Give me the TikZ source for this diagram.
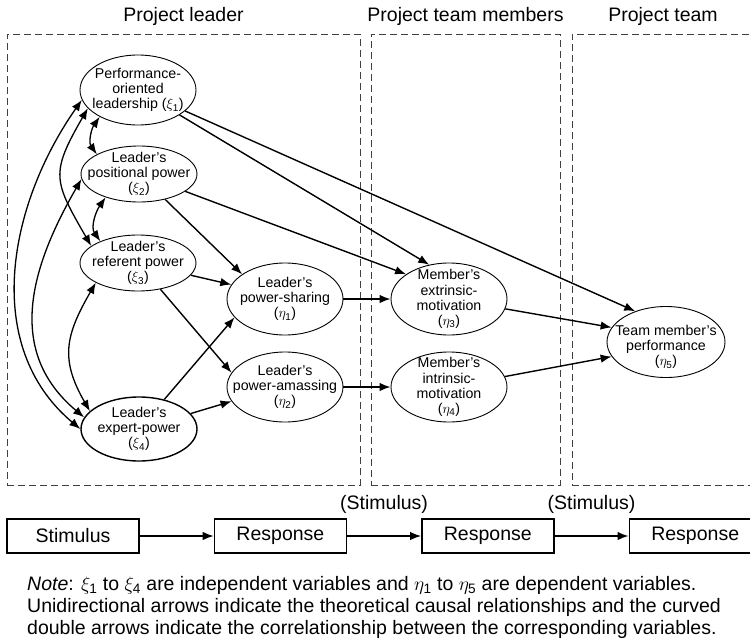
\documentclass[tikz,border=0pt]{standalone}
\usepackage{fix-cm}
\usepackage{amsmath}
\usepackage{fontspec}
\setmainfont{Liberation Sans}
\usetikzlibrary{positioning,shapes.geometric,arrows.meta}
\newcommand{\xiv}[1]{$\xi_{\text{#1}}$}
\newcommand{\etav}[1]{$\eta_{\text{#1}}$}

\begin{document}
\begin{tikzpicture}[x=1pt,y=1pt,
	font=\fontsize{19.5}{22}\selectfont,
	>={Latex[length=11pt,width=8.5pt]},
	zone/.style={draw=black!75,dash pattern=on 7pt off 4pt,line width=0.9pt,inner sep=0pt},
	var/.style={ellipse,draw,line width=0.9pt,minimum width=116pt,minimum height=#1,inner sep=0pt},
	var/.default=56pt,
	vtxt/.style={align=center,inner sep=0pt,font=\fontsize{14.2}{15.3}\selectfont},
	box/.style={draw,line width=1.4pt,minimum width=132pt,minimum height=34pt,inner sep=0pt},
	flow/.style={->,line width=1.4pt},
	corr/.style={<->,line width=1.3pt}]
	\useasboundingbox (0,0) rectangle (750,-643);
	% groups
	\node[zone,minimum width=353pt,minimum height=451pt] (lead) at (183.5,-259.5) {};
	\node[zone,minimum width=189pt,minimum height=451pt] (memb) at (465.5,-259.5) {};
	\node[zone,minimum width=182pt,minimum height=451pt] (team) at (663,-259.5) {};
	\node[above=4pt of lead.north] (tlead) {Project leader};
	\node[above=4pt of memb.north] (tmemb) {Project team members};
	\node[above=4pt of team.north] (tteam) {Project team};
	% variables
	\node[var=70pt,label={[vtxt]center:{Performance-\\oriented\\leadership (\xiv{1})}}] (x1) at (138,-90) {};
	\node[var,label={[vtxt]center:{Leader’s\\positional power\\(\xiv{2})}}] (x2) at (139,-174) {};
	\node[var,label={[vtxt]center:{Leader’s\\referent power\\(\xiv{3})}}] (x3) at (138,-263) {};
	\node[var=64pt,line width=1.4pt,label={[vtxt]center:{Leader’s\\expert-power\\(\xiv{4})}}] (x4) at (139,-429) {};
	\node[var=72pt,label={[vtxt]center:{Leader’s\\power-sharing\\(\etav{1})}}] (e1) at (285,-299) {};
	\node[var=70pt,label={[vtxt]center:{Leader’s\\power-amassing\\(\etav{2})}}] (e2) at (285,-387) {};
	\node[var=72pt,label={[vtxt]center:{Member’s\\extrinsic-\\motivation\\(\etav{3})}}] (e3) at (449,-299) {};
	\node[var=70pt,label={[vtxt]center:{Member’s\\intrinsic-\\motivation\\(\etav{4})}}] (e4) at (449,-387) {};
	\node[var=71pt,minimum width=118pt,label={[vtxt,yshift=-5pt]center:{Team member’s\\performance\\(\etav{5})}}] (e5) at (666,-342) {};
	% correlations
	\draw[corr] (x1.215) to[out=235,in=125] (x2.155);
	\draw[corr] (x2.215) to[out=235,in=125] (x3.150);
	\draw[corr] (x1.200) to[out=240,in=120,looseness=1.4] (x3.160);
	\draw[corr] (x3.205) to[out=240,in=120,looseness=1.2] (x4.160);
	\draw[corr] (x2.185) to[out=240,in=140,looseness=1.1] (x4.168);
	\draw[corr] (x1.190) to[out=235,in=140] (x4.180);
	% causal paths
	\draw[flow] (x1) -- (e3.120);
	\draw[flow] (x1) -- (e5.135);
	\draw[flow] (x2) -- (e3.150);
	\draw[flow] (x2) -- (e1.150);
	\draw[flow] (x3) -- (e1.165);
	\draw[flow] (x3) -- (e2.165);
	\draw[flow] (x4) -- (e1.200);
	\draw[flow] (x4) -- (e2.195);
	\draw[flow] (e1) -- (e3.180);
	\draw[flow] (e2) -- (e4.180);
	\draw[flow] (e3) -- (e5.165);
	\draw[flow] (e4) -- (e5.195);
	% stimulus-response chain
	\node[box] (stim) at (73,-536) {Stimulus};
	\node[box,right=74pt of stim] (resp1) {Response};
	\node[box,right=74pt of resp1] (resp2) {Response};
	\node[box,right=74pt of resp2] (resp3) {Response};
	\draw[flow] (stim) -- (resp1);
	\draw[flow] (resp1) -- node[above=18pt] (stim2) {(Stimulus)} (resp2);
	\draw[flow] (resp2) -- node[above=18pt] (stim3) {(Stimulus)} (resp3);
	\node[anchor=north west,align=left,inner sep=0pt] (note) at (27,-576) {\textit{Note}: \xiv{1} to \xiv{4} are independent variables and \etav{1} to \etav{5} are dependent variables.\\
		Unidirectional arrows indicate the theoretical causal relationships and the curved\\
		double arrows indicate the correlationship between the corresponding variables.};
\end{tikzpicture}
\end{document}
